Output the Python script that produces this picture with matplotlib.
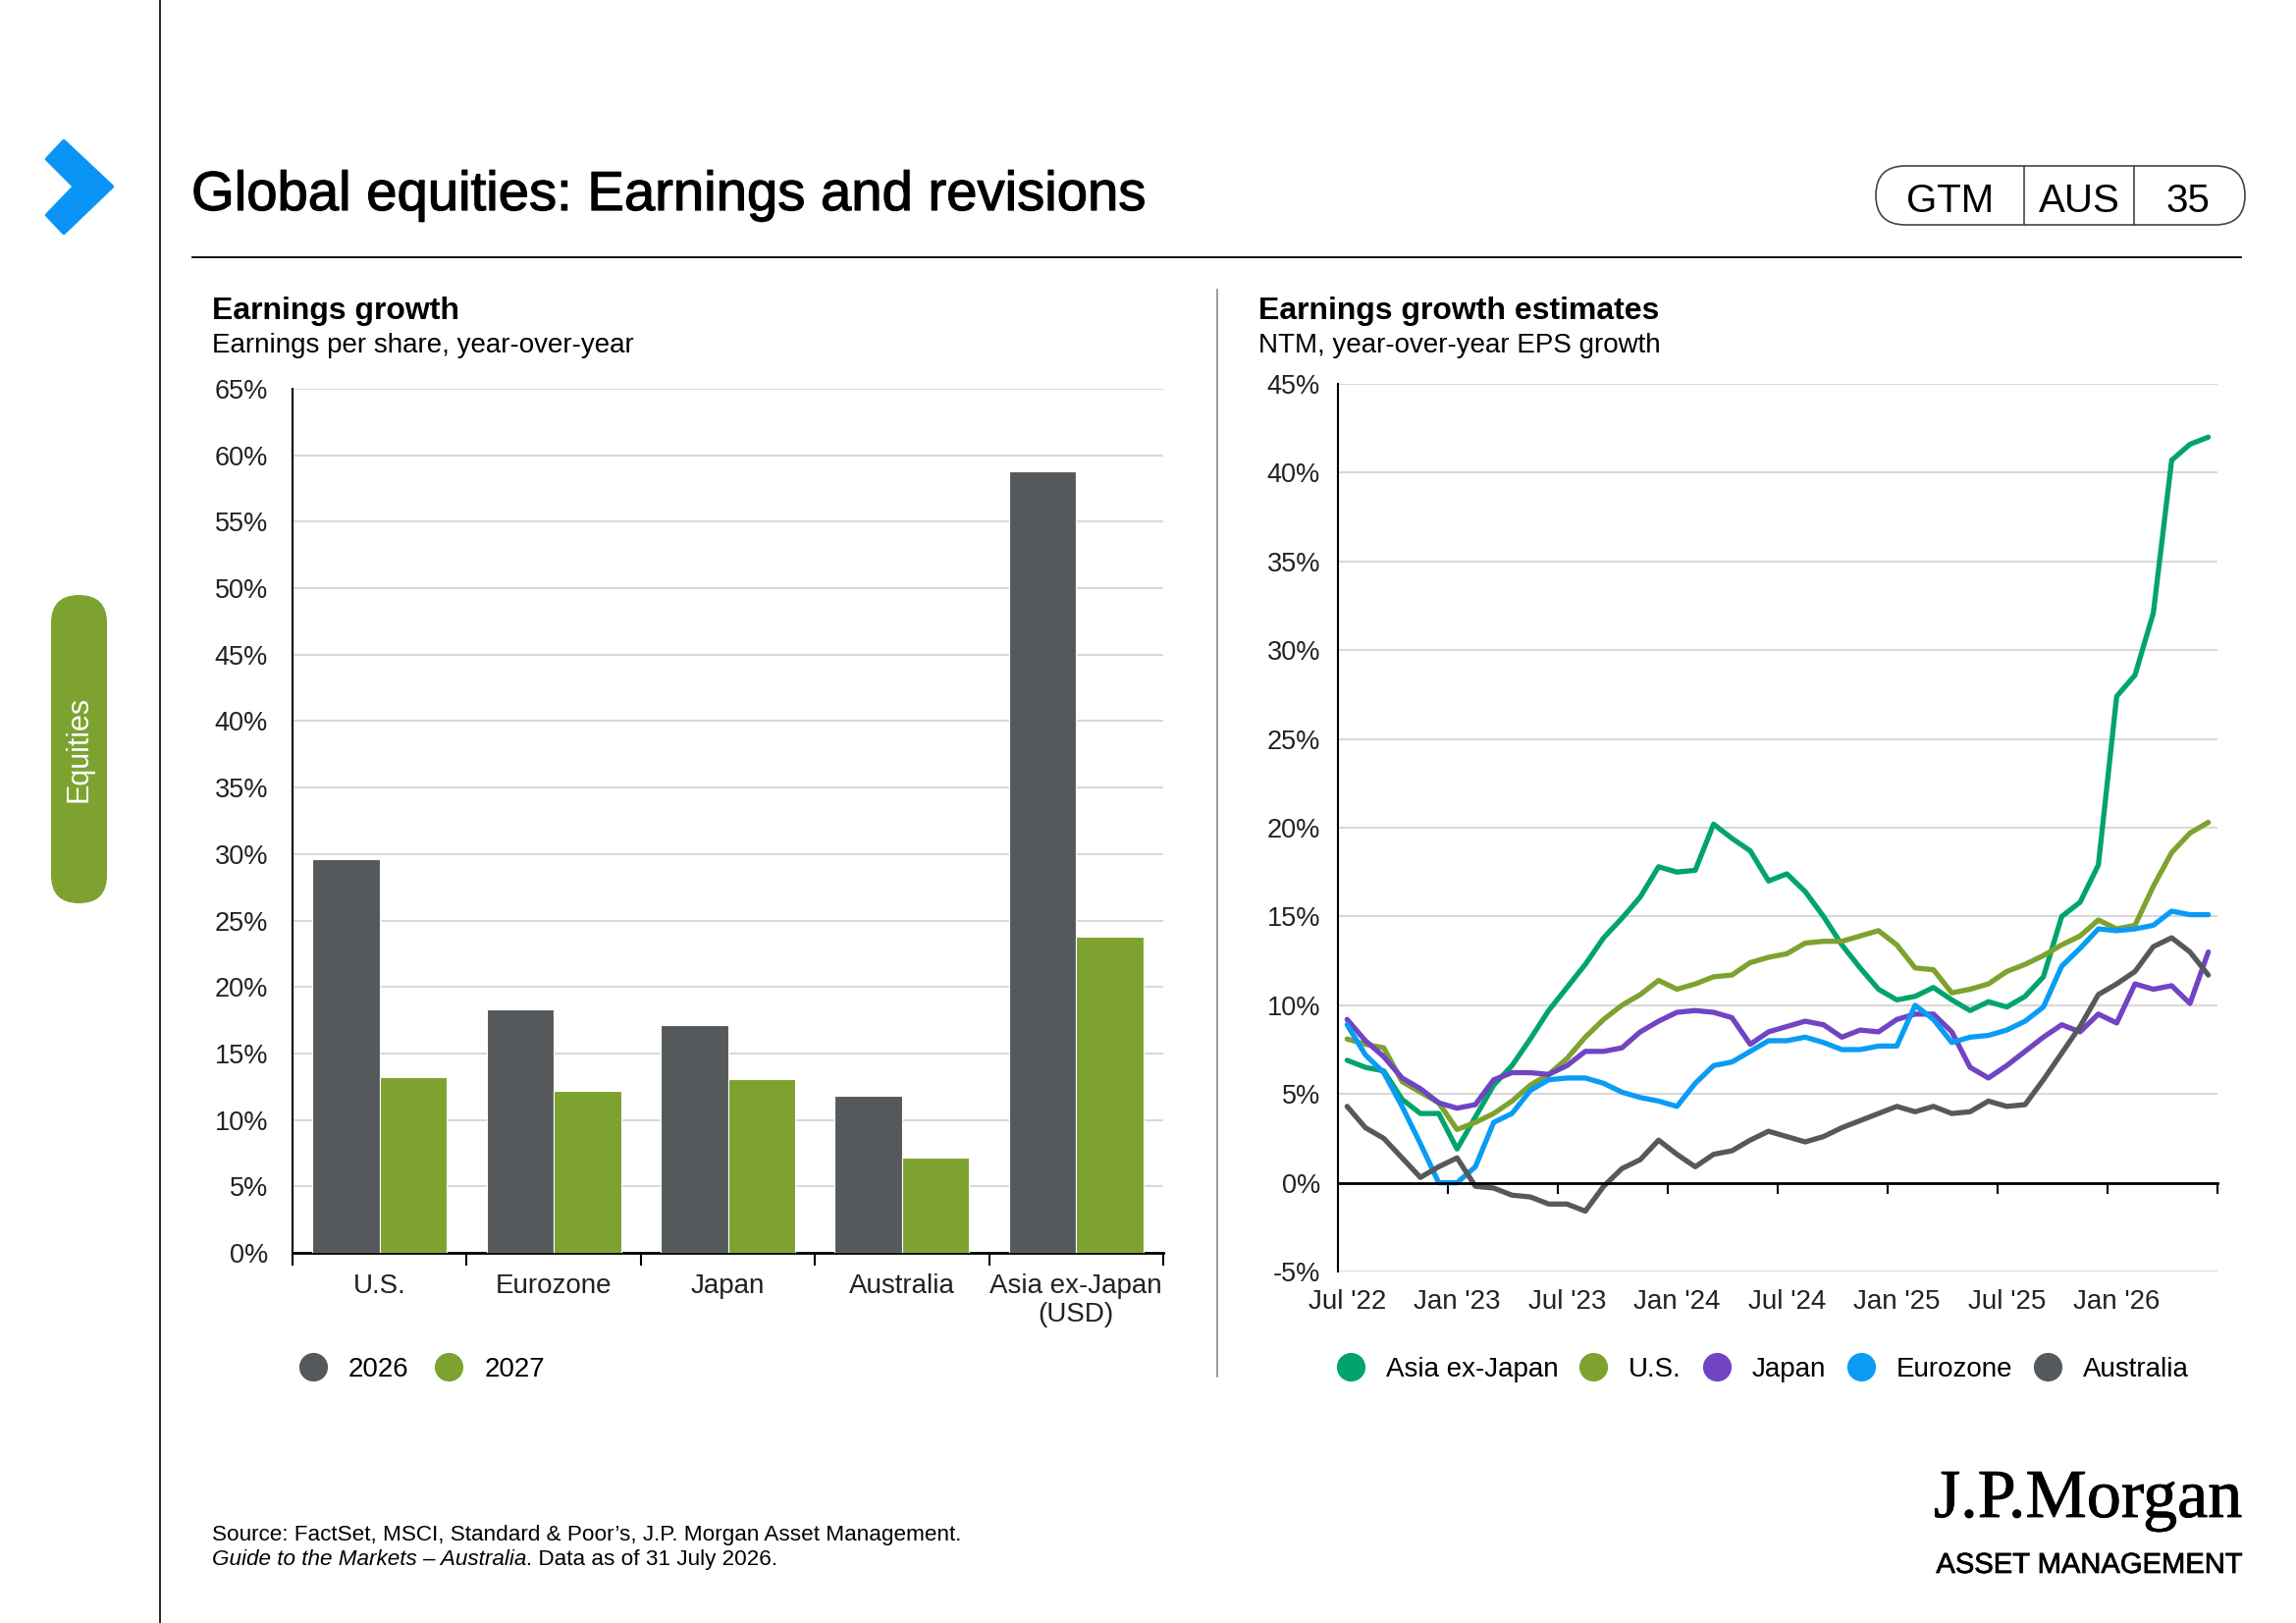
import numpy as np
import pandas as pd
import matplotlib
matplotlib.use("Agg")
import matplotlib.pyplot as plt
import matplotlib.patheffects as pe
from matplotlib.lines import Line2D
from matplotlib.patches import FancyBboxPatch, Polygon
from matplotlib.ticker import PercentFormatter

plt.rcParams['font.family'] = ['Liberation Sans', 'DejaVu Sans']
plt.rcParams['axes.unicode_minus'] = False

W, H = 2339, 1653

# left chart: earnings per share growth by region
regions = ["U.S.", "Eurozone", "Japan", "Australia", "Asia ex-Japan\n(USD)"]
bar_years = ["2026", "2027"]
eps_2026 = [29.6, 18.3, 17.1, 11.8, 58.8]
eps_2027 = [13.2, 12.2, 13.1, 7.2, 23.8]

# right chart: NTM y/y EPS growth estimates, monthly from Jul 2022
months = pd.date_range("2022-07-01", periods=48, freq="MS")
asia_ex_japan = [6.9, 6.5, 6.3, 4.7, 3.9, 3.9, 1.9, 3.7, 5.5, 6.6,
                 8.1, 9.7, 11.0, 12.3, 13.8, 14.9, 16.1, 17.8, 17.5, 17.6,
                 20.2, 19.4, 18.7, 17.0, 17.4, 16.4, 15.0, 13.4, 12.1, 10.9,
                 10.3, 10.5, 11.0, 10.3, 9.7, 10.2, 9.9, 10.5, 11.6, 15.0,
                 15.8, 17.9, 27.4, 28.6, 32.1, 40.7, 41.6, 42.0]
us = [8.1, 7.8, 7.6, 5.7, 5.1, 4.5, 3.0, 3.4, 3.9, 4.6,
      5.5, 6.1, 7.0, 8.2, 9.2, 10.0, 10.6, 11.4, 10.9, 11.2,
      11.6, 11.7, 12.4, 12.7, 12.9, 13.5, 13.6, 13.6, 13.9, 14.2,
      13.4, 12.1, 12.0, 10.7, 10.9, 11.2, 11.9, 12.3, 12.8, 13.4,
      13.9, 14.8, 14.3, 14.5, 16.7, 18.6, 19.7, 20.3]
japan = [9.2, 8.0, 7.1, 5.9, 5.3, 4.5, 4.2, 4.4, 5.8, 6.2,
         6.2, 6.1, 6.6, 7.4, 7.4, 7.6, 8.5, 9.1, 9.6, 9.7,
         9.6, 9.3, 7.8, 8.5, 8.8, 9.1, 8.9, 8.2, 8.6, 8.5,
         9.2, 9.5, 9.5, 8.5, 6.5, 5.9, 6.6, 7.4, 8.2, 8.9,
         8.5, 9.5, 9.0, 11.2, 10.9, 11.1, 10.1, 13.0]
eurozone = [8.9, 7.2, 6.2, 4.3, 2.2, 0.0, 0.0, 0.9, 3.4, 3.9,
            5.2, 5.8, 5.9, 5.9, 5.6, 5.1, 4.8, 4.6, 4.3, 5.6,
            6.6, 6.8, 7.4, 8.0, 8.0, 8.2, 7.9, 7.5, 7.5, 7.7,
            7.7, 10.0, 9.2, 7.9, 8.2, 8.3, 8.6, 9.1, 9.9, 12.2,
            13.2, 14.3, 14.2, 14.3, 14.5, 15.3, 15.1, 15.1]
australia = [4.3, 3.1, 2.5, 1.4, 0.3, 0.9, 1.4, -0.2, -0.3, -0.7,
             -0.8, -1.2, -1.2, -1.6, -0.2, 0.8, 1.3, 2.4, 1.6, 0.9,
             1.6, 1.8, 2.4, 2.9, 2.6, 2.3, 2.6, 3.1, 3.5, 3.9,
             4.3, 4.0, 4.3, 3.9, 4.0, 4.6, 4.3, 4.4, 5.8, 7.3,
             8.8, 10.6, 11.2, 11.9, 13.3, 13.8, 13.0, 11.7]
line_names = ["Asia ex-Japan", "U.S.", "Japan", "Eurozone", "Australia"]

GREY = "#55595C"
OLIVE = "#7DA22F"
TEAL = "#00A46C"
PURPLE = "#7044C2"
BLUE = "#0A9CF5"
TXT = "#222222"

fig = plt.figure(figsize=(W / 100, H / 100), dpi=100)

# page furniture drawn on a full-figure axes in pixel units
bg = fig.add_axes([0, 0, 1, 1], zorder=-1)
bg.set_xlim(0, W)
bg.set_ylim(H, 0)
bg.axis("off")


def rect(l, t, r, b):
    return [l / W, 1 - b / H, (r - l) / W, (b - t) / H]


heavy = [pe.withStroke(linewidth=0.9, foreground="black")]

bg.plot([163, 163], [0, H], color="black", lw=1.2)
bg.add_patch(Polygon([(48, 162), (65, 144), (114, 190), (65, 237), (48, 219), (76, 190)],
                     closed=True, fc="#0A94F5", ec="#0A94F5", lw=3, joinstyle="round"))
bg.add_patch(FancyBboxPatch((52, 606), 57, 314, boxstyle="round,pad=0,rounding_size=28.5",
                            fc=OLIVE, ec="none"))
bg.text(80, 763, "Equities", rotation=90, color="white", fontsize=22, ha="center", va="center")

bg.text(195, 214, "Global equities: Earnings and revisions", fontsize=40.5, va="baseline",
        path_effects=heavy)
bg.plot([196, 2283], [262, 262], color="black", lw=1.3)

bg.add_patch(FancyBboxPatch((1911, 169), 376, 60, boxstyle="round,pad=0,rounding_size=30",
                            fc="none", ec="#444444", lw=1.2))
bg.plot([2062, 2062], [169, 229], color="#444444", lw=1.2)
bg.plot([2174, 2174], [169, 229], color="#444444", lw=1.2)
for cx, s in zip([1987, 2118, 2229], ["GTM", "AUS", "35"]):
    bg.text(cx, 216, s, fontsize=29, ha="center", va="baseline")

bg.plot([1240, 1240], [295, 1402], color="#8A8A8A", lw=1.2)

bg.text(216, 325, "Earnings growth", fontsize=23, fontweight="bold", va="baseline")
bg.text(216, 359, "Earnings per share, year-over-year", fontsize=20, va="baseline")
bg.text(1282, 325, "Earnings growth estimates", fontsize=23, fontweight="bold", va="baseline")
bg.text(1282, 359, "NTM, year-over-year EPS growth", fontsize=20, va="baseline")

bg.text(216, 1569, "Source: FactSet, MSCI, Standard & Poor\u2019s, J.P. Morgan Asset Management.",
        fontsize=16.2, va="baseline")
src2 = bg.text(216, 1594, "Guide to the Markets \u2013 Australia", fontsize=16.2, style="italic",
               va="baseline")
bg.annotate(". Data as of 31 July 2026.", xy=(1, 0), xycoords=src2, fontsize=16.2,
            ha="left", va="bottom")

bg.text(2284, 1545, "J.P.Morgan", family="Liberation Serif", fontsize=50.5, ha="right",
        va="baseline", path_effects=[pe.withStroke(linewidth=0.6, foreground="black")])
bg.text(2284, 1602, "ASSET MANAGEMENT", fontsize=21, ha="right", va="baseline",
        path_effects=[pe.withStroke(linewidth=0.5, foreground="black")])

# ---- bar chart
ax1 = fig.add_axes(rect(298, 396, 1185, 1276))
x = np.arange(len(regions))
bw = 0.386
ax1.bar(x - bw / 2, eps_2026, bw, color=GREY, edgecolor="white", linewidth=0.8, zorder=3)
ax1.bar(x + bw / 2, eps_2027, bw, color=OLIVE, edgecolor="white", linewidth=0.8, zorder=3)
ax1.set_xlim(-0.5, len(regions) - 0.5)
ax1.set_ylim(0, 65)
ax1.set_yticks(np.arange(0, 66, 5))
ax1.yaxis.set_major_formatter(PercentFormatter(decimals=0))
ax1.grid(axis="y", color="#D9D9D9", lw=1.5, zorder=0)
ax1.set_axisbelow(True)
ax1.set_xticks(x, regions, linespacing=1.15)
ax1.set_xticks(np.arange(-0.5, len(regions), 1), minor=True)
ax1.tick_params(axis="x", which="major", length=0, pad=15, labelsize=20, labelcolor=TXT)
ax1.tick_params(axis="x", which="minor", length=9, width=1.5)
ax1.tick_params(axis="y", length=0, pad=18, labelsize=19.5, labelcolor=TXT)
for s in ["top", "right"]:
    ax1.spines[s].set_visible(False)
ax1.spines["left"].set_linewidth(1.5)
ax1.spines["bottom"].set_linewidth(2)

bar_handles = [Line2D([], [], ls="none", marker="o", markersize=21, mew=0, color=c)
               for c in [GREY, OLIVE]]
ax1.legend(bar_handles, bar_years, loc="center left", bbox_to_anchor=(305, 1395),
           bbox_transform=bg.transData, ncol=2, frameon=False, fontsize=20,
           handlelength=1.0, handletextpad=0.8, columnspacing=0.97,
           borderpad=0, borderaxespad=0)

# ---- line chart
ax2 = fig.add_axes(rect(1363, 391, 2259, 1295))
t = np.arange(len(months))
series = [asia_ex_japan, us, japan, eurozone, australia]
colors = [TEAL, OLIVE, PURPLE, BLUE, GREY]
for vals, c, name in zip(series, colors, line_names):
    ax2.plot(t, vals, color=c, lw=3.8, label=name, solid_joinstyle="round",
             solid_capstyle="round", zorder=3)
ax2.set_xlim(-0.5, len(months) - 0.5)
ax2.set_ylim(-5, 45)
ax2.set_yticks(np.arange(-5, 46, 5))
ax2.yaxis.set_major_formatter(PercentFormatter(decimals=0))
ax2.grid(axis="y", color="#D9D9D9", lw=1.5, zorder=0)
ax2.set_axisbelow(True)
ax2.tick_params(axis="y", length=0, pad=13, labelsize=19.5, labelcolor=TXT)
for s in ["top", "right"]:
    ax2.spines[s].set_visible(False)
ax2.spines["left"].set_linewidth(1.5)
ax2.spines["bottom"].set_position(("data", 0))
ax2.spines["bottom"].set_linewidth(2)
ax2.spines["bottom"].set_zorder(4)
ax2.set_xticks(np.arange(5.5, len(months), 6))
ax2.tick_params(axis="x", length=8, width=1.5, labelbottom=False)

date_axis = ax2.secondary_xaxis("bottom")
date_axis.set_xticks(t[::6], [d.strftime("%b '%y") for d in months[::6]])
date_axis.tick_params(length=0, pad=13, labelsize=20, labelcolor=TXT)
date_axis.spines["bottom"].set_visible(False)

line_handles = [Line2D([], [], ls="none", marker="o", markersize=21, mew=0, color=c)
                for c in colors]
ax2.legend(line_handles, line_names, loc="center left", bbox_to_anchor=(1362, 1395),
           bbox_transform=bg.transData, ncol=5, frameon=False, fontsize=20,
           handlelength=1.0, handletextpad=0.8, columnspacing=0.78,
           borderpad=0, borderaxespad=0)

fig.savefig("out.png", dpi=100)
